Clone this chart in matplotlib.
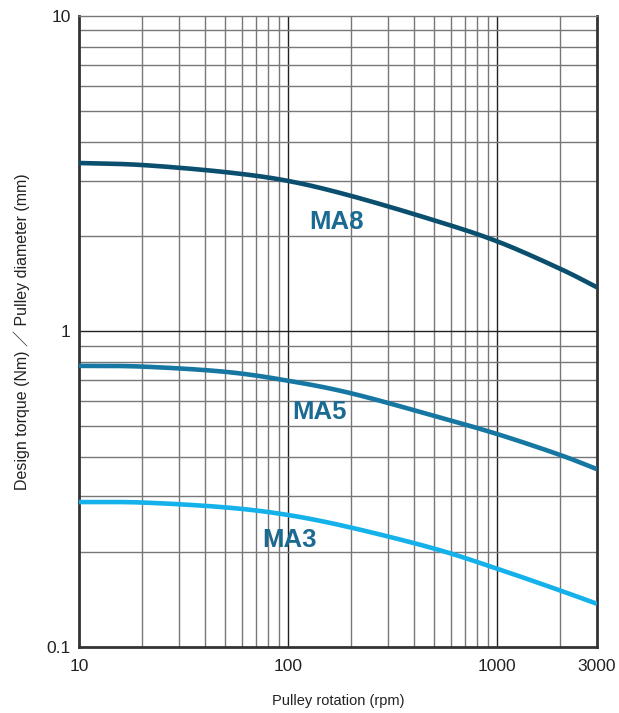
import numpy as np
import matplotlib.pyplot as plt
from matplotlib.ticker import FixedLocator, NullFormatter

plt.rcParams['font.family'] = ['Liberation Sans', 'Noto Sans CJK JP', 'DejaVu Sans']

# pulley rotation (rpm)
rpm = [10, 20, 50, 100, 200, 500, 1000, 2000, 3000]

# design torque / pulley diameter
ma8 = [3.42, 3.37, 3.2, 3.0, 2.69, 2.25, 1.93, 1.58, 1.38]
ma5 = [0.778, 0.774, 0.745, 0.698, 0.637, 0.54, 0.473, 0.406, 0.366]
ma3 = [0.288, 0.287, 0.277, 0.262, 0.239, 0.205, 0.177, 0.151, 0.137]

x_ticks = [10, 100, 1000, 3000]
x_tick_labels = ["10", "100", "1000", "3000"]
y_ticks = [0.1, 1, 10]
y_tick_labels = ["0.1", "1", "10"]

series = [("MA8", ma8, "#0b4f6f", (171, 2.22)),
          ("MA5", ma5, "#1677a2", (142, 0.556)),
          ("MA3", ma3, "#14b1ea", (102, 0.218))]


def catmull_rom(px, py, n=30):
    # smooth path through the points for drawing
    px = np.asarray(px, float)
    py = np.asarray(py, float)
    px_ext = np.concatenate([[2 * px[0] - px[1]], px, [2 * px[-1] - px[-2]]])
    py_ext = np.concatenate([[2 * py[0] - py[1]], py, [2 * py[-1] - py[-2]]])
    out_x, out_y = [], []
    t = np.linspace(0, 1, n, endpoint=False)
    for i in range(1, len(px_ext) - 2):
        for arr, out in ((px_ext, out_x), (py_ext, out_y)):
            p0, p1, p2, p3 = arr[i - 1], arr[i], arr[i + 1], arr[i + 2]
            out.extend(0.5 * (2 * p1 + (-p0 + p2) * t + (2 * p0 - 5 * p1 + 4 * p2 - p3) * t ** 2
                              + (-p0 + 3 * p1 - 3 * p2 + p3) * t ** 3))
    out_x.append(px[-1])
    out_y.append(py[-1])
    return np.array(out_x), np.array(out_y)


fig = plt.figure(figsize=(6.19, 7.13), dpi=100)
ax = fig.add_axes([0.1276, 0.0926, 0.8369, 0.885])
ax.set_xscale("log")
ax.set_yscale("log")
ax.set_xlim(10, 3000)
ax.set_ylim(0.1, 10)

# grid lines
x_minor = [v * d for d in (10, 100) for v in range(2, 10)] + [2000]
y_minor = [v * d for d in (0.1, 1) for v in range(2, 10)]
for xv in x_minor:
    ax.axvline(xv, color="#777777", lw=1.0, zorder=1)
for xv in [100, 1000]:
    ax.axvline(xv, color="#222222", lw=1.0, zorder=1)
for yv in y_minor:
    ax.axhline(yv, color="#777777", lw=1.0, zorder=1)
ax.axhline(1, color="#222222", lw=1.0, zorder=1)

for name, vals, color, (lx, ly) in series:
    sx, sy = catmull_rom(np.log10(rpm), np.log10(vals))
    ax.plot(10 ** sx, 10 ** sy, color=color, lw=3.3, solid_capstyle="butt", zorder=3)
    ax.text(lx, ly, name, color="#1a6a92", fontsize=18.5, fontweight="bold",
            ha="center", va="center", zorder=4)

ax.xaxis.set_major_locator(FixedLocator(x_ticks))
ax.set_xticklabels(x_tick_labels)
ax.xaxis.set_minor_formatter(NullFormatter())
ax.yaxis.set_major_locator(FixedLocator(y_ticks))
ax.set_yticklabels(y_tick_labels)
ax.yaxis.set_minor_formatter(NullFormatter())
ax.tick_params(which="both", length=0, labelsize=12.5, colors="#222222")
ax.tick_params(axis="x", pad=9)
ax.tick_params(axis="y", pad=6)

for side in ["left", "bottom", "right"]:
    ax.spines[side].set_color("#333333")
    ax.spines[side].set_linewidth(2.0)
ax.spines["top"].set_color("#777777")
ax.spines["top"].set_linewidth(1.0)

ax.set_xlabel("Pulley rotation (rpm)", fontsize=10.5, labelpad=14, color="#222222")
ax.set_ylabel("Design torque (Nm) \uff0f Pulley diameter (mm)", fontsize=11.5,
              labelpad=12, color="#222222")

fig.savefig("out.png", dpi=100)
